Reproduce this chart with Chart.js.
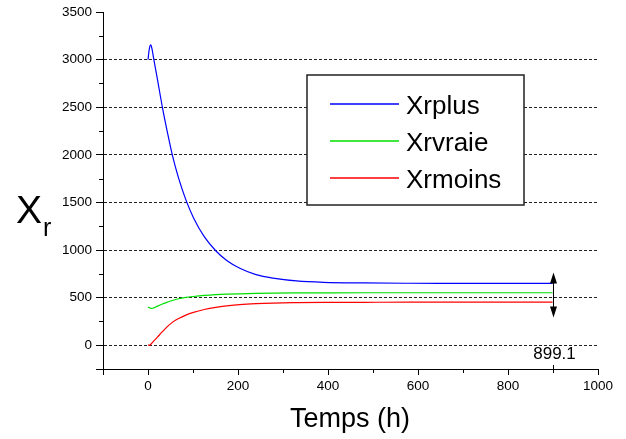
<!DOCTYPE html>
<html>
<head>
<meta charset="utf-8">
<script src="https://cdn.jsdelivr.net/npm/chart.js@4/dist/chart.umd.min.js"></script>
<style>
  html, body { margin: 0; padding: 0; background: #fff; }
  #wrap { width: 626px; height: 439px; }
</style>
</head>
<body>
<div id="wrap"><canvas id="myChart" width="626" height="439"></canvas></div>
<script>
// time in hours
const times   = [0, 3, 6, 9, 13, 20, 32, 43, 54, 68, 84, 101, 125, 151, 175, 204, 240, 278, 330, 390, 480, 580, 680, 790, 899.1];
const xrplus  = [3000, 3115, 3155, 3110, 3000, 2820, 2500, 2240, 2000, 1755, 1530, 1340, 1140, 990, 890, 808, 742, 705, 676, 661, 654, 651, 650, 649, 649];
const xrvraie = [402, 394, 388, 386, 392, 408, 433, 452, 470, 488, 502, 512, 523, 531, 536, 540, 544, 547, 549, 550, 551, 551, 551, 551, 551];
const xrmoins = [0, 0, 8, 24, 45, 80, 142, 195, 240, 280, 316, 345, 375, 398, 413, 427, 437, 443, 447, 450, 451, 452, 452, 452, 452];

const seriesNames  = ['Xrplus', 'Xrvraie', 'Xrmoins'];
const seriesColors = ['#0000ff', '#00e000', '#ff0000'];

const xTicks = [-100, 0, 200, 400, 600, 800, 1000];
const xMinorTicks = [100, 300, 500, 700, 900];
const yTicks = [-250, 0, 500, 1000, 1500, 2000, 2500, 3000, 3500];
const yMinorTicks = [250, 750, 1250, 1750, 2250, 2750, 3250];

const markerTime = 899.1;
const markerArrow = [290, 765];
const markerLabelY = -100;

const FONT = "'Liberation Sans', Arial, sans-serif";

function pts(values) {
  return values.map((v, i) => ({ x: times[i], y: v }));
}

const decor = {
  id: 'decor',
  afterDraw(chart) {
    const ctx = chart.ctx;
    const xs = chart.scales.x, ys = chart.scales.y;
    const area = chart.chartArea;
    ctx.save();
    ctx.strokeStyle = '#000';
    ctx.fillStyle = '#000';
    ctx.lineWidth = 1;

    // minor ticks
    ctx.beginPath();
    xMinorTicks.forEach(v => {
      const px = Math.round(xs.getPixelForValue(v)) + 0.5;
      ctx.moveTo(px, area.bottom);
      ctx.lineTo(px, area.bottom + 4);
    });
    yMinorTicks.forEach(v => {
      const py = Math.round(ys.getPixelForValue(v)) + 0.5;
      ctx.moveTo(area.left - 4, py);
      ctx.lineTo(area.left, py);
    });
    ctx.stroke();

    // marker at the last time
    const mx = Math.round(xs.getPixelForValue(markerTime)) + 0.5;
    const yTop = ys.getPixelForValue(markerArrow[1]);
    const yBot = ys.getPixelForValue(markerArrow[0]);
    ctx.beginPath();
    ctx.moveTo(mx, yTop + 6);
    ctx.lineTo(mx, yBot - 6);
    ctx.moveTo(mx, area.bottom - 4);
    ctx.lineTo(mx, area.bottom + 3);
    ctx.stroke();
    ctx.beginPath();
    ctx.moveTo(mx, yTop);
    ctx.lineTo(mx - 3.5, yTop + 11);
    ctx.lineTo(mx + 3.5, yTop + 11);
    ctx.closePath();
    ctx.moveTo(mx, yBot);
    ctx.lineTo(mx - 3.5, yBot - 11);
    ctx.lineTo(mx + 3.5, yBot - 11);
    ctx.closePath();
    ctx.fill();
    ctx.font = '17px ' + FONT;
    ctx.textAlign = 'center';
    ctx.textBaseline = 'middle';
    ctx.fillText(String(markerTime), mx + 1, ys.getPixelForValue(markerLabelY));

    // legend box
    const lx = 307, ly = 75, lw = 217, lh = 130;
    ctx.fillStyle = '#fff';
    ctx.fillRect(lx, ly, lw, lh);
    ctx.strokeStyle = '#222';
    ctx.lineWidth = 1.5;
    ctx.strokeRect(lx, ly, lw, lh);
    ctx.font = '26px ' + FONT;
    ctx.textAlign = 'left';
    ctx.textBaseline = 'alphabetic';
    chart.data.datasets.forEach((ds, i) => {
      const rowY = 104 + i * 37;
      ctx.strokeStyle = ds.borderColor;
      ctx.lineWidth = 1.5;
      ctx.beginPath();
      ctx.moveTo(330, rowY);
      ctx.lineTo(399, rowY);
      ctx.stroke();
      ctx.fillStyle = '#000';
      ctx.fillText(ds.label, 406, rowY + 9.5);
    });

    // axis titles
    ctx.fillStyle = '#000';
    ctx.font = '39px ' + FONT;
    ctx.fillText('X', 16, 223);
    ctx.font = '25px ' + FONT;
    ctx.fillText('r', 43, 236);
    ctx.font = '27px ' + FONT;
    ctx.textAlign = 'center';
    ctx.fillText('Temps (h)', 350, 427);
    ctx.restore();
  }
};

const ctx = document.getElementById('myChart').getContext('2d');
const myChart = new Chart(ctx, {
  type: 'line',
  data: {
    datasets: [xrplus, xrvraie, xrmoins].map((vals, i) => ({
      label: seriesNames[i],
      data: pts(vals),
      borderColor: seriesColors[i],
      borderWidth: 1.2,
      pointRadius: 0,
      fill: false,
      cubicInterpolationMode: 'monotone'
    }))
  },
  options: {
    responsive: false,
    animation: false,
    devicePixelRatio: 1,
    layout: { padding: { top: 12, right: 28, bottom: 0, left: 0 } },
    plugins: { legend: { display: false }, tooltip: { enabled: false } },
    scales: {
      x: {
        type: 'linear',
        min: -100,
        max: 1000,
        afterBuildTicks: s => { s.ticks = xTicks.map(v => ({ value: v })); },
        afterFit: s => { s.height = 70; },
        ticks: {
          callback: v => (v >= 0 ? v : ''),
          color: '#000',
          font: { family: FONT, size: 13.5 },
          maxRotation: 0,
          padding: 3
        },
        grid: { drawOnChartArea: false, color: '#000', tickLength: 6 },
        border: { display: true, color: '#000', width: 1 }
      },
      y: {
        type: 'linear',
        min: -250,
        max: 3500,
        afterBuildTicks: s => { s.ticks = yTicks.map(v => ({ value: v })); },
        afterFit: s => { s.width = 103; },
        ticks: {
          callback: v => (v >= 0 ? v : ''),
          color: '#000',
          font: { family: FONT, size: 13.5 },
          padding: 4
        },
        grid: {
          color: c => (c.tick && c.tick.value >= 0 && c.tick.value <= 3000 ? '#222' : 'rgba(0,0,0,0)'),
          tickColor: '#000',
          tickLength: 7,
          lineWidth: 1
        },
        border: { display: true, color: '#000', width: 1, dash: [3, 2] }
      }
    }
  },
  plugins: [decor]
});
</script>
</body>
</html>
